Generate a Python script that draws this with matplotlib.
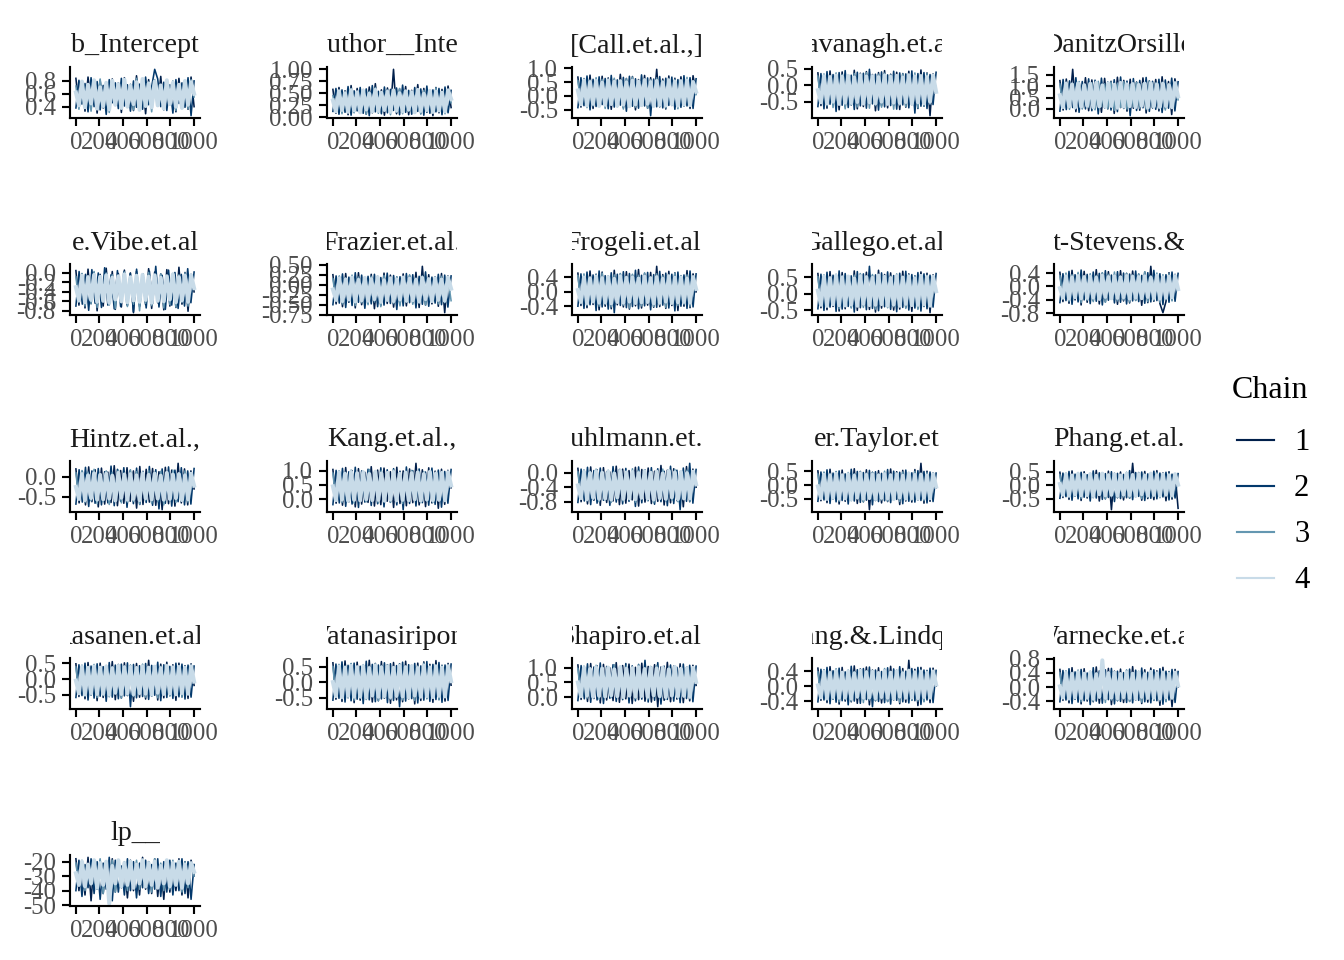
import numpy as np
import matplotlib
matplotlib.use("Agg")
import matplotlib.pyplot as plt
from matplotlib.lines import Line2D
from matplotlib.transforms import Bbox, TransformedBbox

plt.rcParams['font.family'] = ['Liberation Serif', 'DejaVu Serif']

chain_colors = ["#011f4b", "#03396c", "#6497b1", "#c8dbe8"]
chain_labels = ["1", "2", "3", "4"]
x_ticks = [0, 200, 400, 600, 800, 1000]
x_ticklabels = ["0", "200", "400", "600", "800", "1000"]

# trace values, in hundredths (lp__ in raw units), 4 chains each
b_intercept = [
    [84, 40, 78, 33, 86, 45, 74, 30, 81, 38, 70, 36, 83, 42, 77, 31, 85, 39, 72, 34, 88, 44, 79, 29, 82, 37, 76, 41, 87, 35, 80, 43, 75, 32, 84, 38, 71, 36, 86, 40],
    [38, 81, 44, 76, 32, 85, 40, 79, 35, 73, 28, 82, 46, 77, 37, 84, 41, 74, 33, 80, 39, 75, 36, 86, 43, 71, 98, 83, 40, 78, 34, 74, 30, 82, 45, 77, 39, 85, 26, 80],
    [72, 36, 80, 42, 69, 33, 77, 45, 83, 39, 74, 31, 79, 43, 68, 37, 81, 40, 75, 35, 84, 38, 71, 44, 78, 32, 82, 41, 70, 36, 76, 46, 80, 34, 73, 42, 79, 37, 82, 55],
    [62, 42, 79, 39, 74, 45, 81, 37, 70, 41, 77, 36, 80, 43, 75, 38, 82, 40, 72, 44, 78, 35, 83, 41, 76, 39, 79, 42, 73, 37, 81, 44, 77, 40, 74, 38, 80, 43, 78, 60],
]
sd_author = [
    [58, 8, 62, 12, 55, 5, 66, 10, 60, 14, 52, 6, 63, 9, 70, 11, 57, 4, 61, 13, 100, 7, 59, 12, 64, 5, 56, 15, 68, 8, 60, 10, 54, 3, 62, 9, 58, 11, 65, 20],
    [12, 60, 6, 57, 10, 64, 4, 55, 13, 62, 8, 59, 3, 66, 11, 54, 7, 63, 9, 58, 14, 61, 5, 67, 10, 56, 6, 62, 12, 59, 4, 65, 8, 57, 11, 60, 5, 63, 9, 56],
    [45, 10, 56, 7, 52, 14, 60, 9, 50, 12, 58, 6, 54, 11, 62, 8, 49, 13, 57, 5, 53, 10, 60, 7, 55, 12, 51, 9, 59, 6, 56, 11, 48, 8, 61, 13, 54, 7, 58, 30],
    [35, 12, 54, 15, 50, 11, 56, 14, 52, 10, 55, 16, 49, 12, 57, 13, 51, 15, 53, 11, 56, 14, 50, 12, 54, 16, 52, 10, 57, 13, 49, 15, 55, 11, 53, 14, 51, 12, 56, 38],
]
call = [
    [68, -40, 62, -33, 75, -45, 58, -30, 71, -38, 65, -48, 60, -35, 78, -42, 63, -31, 70, -50, 59, -36, 74, -44, 66, -32, 96, -39, 61, -47, 72, -34, 64, -41, 69, -37, 57, -45, 73, 10],
    [-42, 66, -35, 72, -50, 60, -38, 69, -31, 63, -46, 74, -40, 58, -33, 67, -55, 71, -37, 62, -44, 76, -36, 65, -71, 61, -39, 70, -43, 64, -34, 68, -48, 59, -41, 73, -36, 66, -45, 62],
    [55, -30, 63, -42, 58, -36, 66, -28, 60, -45, 52, -33, 64, -39, 57, -47, 62, -31, 68, -40, 54, -35, 61, -44, 59, -29, 65, -38, 56, -43, 63, -34, 60, -46, 58, -37, 67, -32, 55, 5],
    [20, -30, 55, -34, 50, -28, 54, -36, 48, -32, 56, -29, 51, -35, 53, -31, 49, -37, 55, -30, 52, -33, 57, -28, 50, -36, 54, -32, 48, -34, 56, -29, 51, -35, 53, -31, 55, -33, 50, 15],
]
kavanagh = [
    [38, -62, 32, -70, 44, -58, 35, -75, 41, -66, 30, -60, 46, -72, 37, -65, 42, -57, 33, -78, 39, -63, 45, -69, 34, -61, 40, -74, 36, -67, 43, -59, 31, -71, 47, -64, 38, -93, 35, -20],
    [-65, 36, -72, 42, -58, 33, -80, 39, -61, 45, -68, 31, -74, 40, -63, 37, -70, 49, -57, 34, -76, 41, -66, 32, -62, 43, -73, 38, -60, 35, -69, 44, -85, 36, -64, 39, -71, 33, -59, 40],
    [28, -55, 35, -63, 30, -68, 38, -58, 33, -72, 27, -60, 36, -66, 31, -56, 39, -70, 29, -62, 34, -67, 37, -57, 32, -73, 28, -61, 35, -65, 30, -59, 38, -69, 33, -64, 36, -58, 29, -10],
    [-15, -52, 28, -55, 25, -50, 30, -57, 26, -53, 29, -54, 24, -51, 31, -56, 27, -52, 28, -55, 25, -50, 30, -57, 26, -53, 29, -54, 24, -51, 31, -56, 27, -52, 28, -55, 25, -50, 30, -20],
]
danitz = [
    [125, -5, 132, 8, 175, -12, 120, 2, 138, -8, 128, 5, 118, -15, 135, 0, 122, -20, 140, 6, 126, -10, 131, 3, 119, -6, 137, -18, 124, 4, 130, -9, 142, 1, 121, -25, 133, 60],
    [-10, 130, -3, 124, 6, 138, -15, 121, 0, 133, -8, 127, -22, 136, 4, 119, -5, 129, -12, 141, 2, 123, -30, 134, -7, 126, 5, 139, -11, 122, -2, 131, -16, 128, 3, 136, -9, 120],
    [110, 5, 118, -2, 113, 8, 121, 0, 108, 6, 116, -4, 122, 10, 111, 2, 119, -6, 114, 7, 120, -1, 109, 9, 117, 3, 112, -3, 123, 5, 115, 1, 118, -5, 110, 8, 121, 40],
    [60, 8, 112, 12, 108, 6, 114, 10, 105, 14, 111, 7, 116, 11, 104, 9, 113, 13, 107, 5, 115, 10, 109, 12, 110, 8, 106, 14, 112, 6, 114, 11, 108, 9, 111, 13, 105, 7, 113, 55],
]
vibe = [
    [5, -68, -2, -74, 8, -65, 1, -80, -3, -70, 10, -66, 3, -77, -1, -72, 6, -69, 0, -84, 4, -71, -4, -67, 9, -75, 2, -63, -2, -78, 7, -70, -5, -73, 12, -66, 1, -81, -3, -40],
    [-70, 3, -66, -3, -79, 7, -64, 0, -73, 11, -68, -4, -76, 5, -71, 2, -67, -1, -82, 8, -69, -2, -74, 4, -65, 14, -72, -5, -77, 6, -68, 1, -75, -3, -70, 9, -63, 2],
    [-8, -62, -1, -70, -6, -65, 3, -73, -10, -60, 0, -68, -4, -75, -7, -63, 2, -71, -9, -66, -3, -80, -5, -64, 1, -69, -8, -61, -2, -74, -6, -67, -1, -72, -4, -62, 0, -70, -7, -35],
    [-30, -58, -6, -62, -9, -57, -4, -61, -8, -59, -5, -63, -10, -56, -7, -60, -3, -62, -9, -58, -6, -61, -4, -57, -8, -63, -5, -59, -10, -60, -7, -56, -3, -62, -9, -58, -6, -61, -5, -32],
]
frazier = [
    [25, -48, 20, -55, 28, -44, 22, -58, 30, -50, 18, -46, 26, -60, 21, -52, 29, -47, 24, -56, 19, -49, 27, -53, 23, -45, 31, -57, 46, -51, 25, -48, 20, -54, 28, -70, 22, -10],
    [-50, 22, -46, 27, -57, 19, -52, 30, -44, 24, -59, 21, -48, 26, -55, 18, -51, 29, -47, 23, -62, 20, -53, 28, -45, 25, -58, 21, -49, 32, -54, 19, -46, 26, -50, 24, -56, 22],
    [15, -42, 22, -48, 17, -40, 24, -52, 19, -45, 13, -50, 21, -43, 16, -55, 23, -41, 18, -47, 20, -53, 14, -44, 25, -49, 17, -46, 22, -51, 15, -42, 19, -48, 21, -45, 16, -40],
    [-12, -38, 16, -41, 13, -37, 18, -42, 12, -39, 17, -40, 14, -36, 19, -43, 11, -38, 16, -41, 13, -37, 18, -40, 15, -39, 12, -42, 17, -36, 14, -41, 16, -38, 13, -40, 18, -10],
]
frogeli = [
    [52, -38, 46, -44, 58, -35, 49, -50, 55, -40, 44, -47, 60, -36, 50, -42, 56, -48, 47, -39, 62, -45, 51, -37, 54, -43, 71, -41, 48, -46, 57, -38, 53, -52, 45, -40, 59, -44, 50, 0],
    [-40, 50, -46, 55, -36, 47, -52, 58, -42, 45, -48, 53, -58, 49, -38, 56, -44, 51, -41, 60, -47, 46, -39, 54, -50, 48, -43, 57, -37, 52, -45, 49, -53, 55, -40, 47, -46, 58, -42, 50],
    [45, -33, 50, -38, 42, -30, 48, -40, 52, -35, 44, -42, 47, -31, 51, -37, 43, -45, 49, -34, 46, -39, 53, -32, 41, -41, 50, -36, 44, -43, 48, -33, 52, -38, 45, -35, 47, -40, 43, 5],
    [5, -28, 40, -31, 37, -27, 42, -30, 38, -29, 41, -32, 36, -28, 43, -30, 39, -27, 40, -31, 37, -29, 42, -28, 38, -32, 41, -30, 36, -27, 43, -31, 39, -29, 40, -28, 37, -30, 41, 8],
]
gallego = [
    [62, -42, 55, -48, 68, -38, 58, -52, 65, -45, 53, -40, 70, -50, 60, -36, 66, -47, 56, -55, 72, -43, 59, -39, 64, -49, 57, -46, 69, -41, 61, -53, 55, -44, 67, -38, 63, -57, 58, 10],
    [-45, 60, -50, 66, -40, 57, -53, 70, -46, 62, -38, 55, -55, 68, -42, 61, -48, 84, -44, 58, -51, 64, -39, 67, -47, 56, -54, 63, -41, 69, -49, 59, -43, 65, -52, 61, -45, 57, -40, 62],
    [52, -35, 58, -40, 50, -32, 60, -45, 55, -38, 49, -43, 57, -34, 62, -41, 53, -37, 59, -46, 51, -33, 56, -42, 54, -39, 61, -36, 50, -44, 58, -31, 55, -47, 52, -38, 57, -40, 53, 12],
    [10, -33, 52, -36, 48, -31, 55, -34, 50, -35, 53, -32, 47, -36, 54, -30, 51, -34, 49, -33, 56, -31, 52, -35, 48, -32, 54, -36, 50, -30, 53, -34, 47, -33, 55, -31, 51, -35, 52, 8],
]
stevens = [
    [42, -45, 36, -50, 48, -40, 38, -55, 45, -47, 33, -42, 50, -52, 40, -46, 44, -38, 35, -53, 47, -43, 39, -49, 46, -41, 37, -56, 43, -48, 60, -44, 34, -51, -78, -45, 41, -40, 36, -10],
    [-48, 38, -42, 45, -53, 35, -46, 49, -40, 36, -51, 43, -44, 39, -55, 47, -41, 34, -49, 44, -47, 40, -52, 37, -43, 46, -45, 33, -50, 41, -46, 48, -42, 38, -54, 35, -47, 43, -44, 39],
    [32, -38, 40, -44, 35, -36, 42, -48, 30, -41, 38, -45, 33, -39, 41, -47, 36, -37, 43, -43, 31, -40, 39, -46, 34, -42, 37, -38, 44, -45, 32, -41, 40, -47, 35, -39, 38, -43, 33, -5],
    [-5, -33, 30, -36, 27, -32, 31, -35, 28, -34, 29, -33, 26, -37, 32, -31, 28, -35, 30, -34, 27, -32, 31, -36, 29, -33, 28, -35, 30, -31, 26, -34, 32, -36, 27, -33, 29, -32, 31, -8],
]
hintz = [
    [20, -65, 14, -70, 25, -62, 18, -75, 22, -68, 12, -64, 28, -72, 16, -66, 23, -61, 15, -78, 26, -69, 19, -63, 21, -71, 13, -82, 24, -67, 17, -73, 34, -65, 20, -70, 15, -30],
    [-68, 18, -63, 24, -74, 15, -66, 21, -70, 13, -65, 27, -72, 19, -61, 23, -76, 16, -67, 22, -69, 14, -64, 26, -71, 18, -80, 20, -66, 25, -73, 17, -62, 23, -70, 15, -68, 21],
    [10, -58, 16, -64, 12, -60, 19, -67, 8, -62, 15, -69, 11, -57, 17, -65, 9, -63, 18, -61, 13, -68, 7, -59, 16, -66, 12, -62, 14, -70, 10, -60, 17, -64, 11, -58, 15, -63, 9, -20],
    [-25, -55, 7, -58, 4, -53, 9, -57, 5, -56, 8, -54, 3, -59, 10, -52, 6, -57, 7, -55, 4, -58, 9, -53, 5, -56, 8, -54, 3, -57, 10, -55, 6, -53, 7, -58, 4, -56, 8, -22],
]
kang = [
    [105, -15, 98, -22, 112, -10, 101, -28, 108, -18, 95, -12, 115, -25, 103, -20, 110, -8, 97, -30, 113, -16, 100, -24, 107, -13, 127, -21, 104, -27, 111, -14, 99, -33, 106, -19, 102, 40],
    [-20, 102, -14, 109, -26, 97, -18, 113, -30, 100, -11, 106, -23, 95, -17, 111, -28, 104, -12, 108, -21, 99, -38, 114, -16, 101, -25, 107, -13, 96, -22, 110, -19, 103, -29, 98, -15, 105],
    [92, -5, 100, -12, 95, -8, 103, -15, 90, -3, 98, -10, 105, -7, 93, -14, 101, -2, 96, -11, 104, -6, 91, -16, 99, -9, 102, -4, 94, -13, 97, -8, 100, -12, 93, -5, 98, -10, 95, 45],
    [45, -4, 94, -2, 90, -6, 96, -3, 92, -5, 95, -1, 89, -4, 97, -3, 91, -6, 93, -2, 96, -5, 90, -3, 94, -4, 92, -1, 95, -6, 89, -2, 97, -5, 91, -3, 93, -4, 95, 48],
]
kuhlmann = [
    [12, -80, 5, -86, 16, -76, 8, -90, 14, -82, 2, -78, 18, -88, 10, -84, 6, -75, 15, -92, 9, -81, 13, -85, 4, -79, 20, -89, 7, -83, 11, -77, 3, -94, 17, -80, 10, -40],
    [-82, 10, -78, 15, -88, 6, -84, 13, -76, 3, -90, 17, -81, 9, -86, 12, -79, 5, -93, 16, -83, 8, -77, 14, -87, 11, -80, 4, -91, 18, -85, 7, -102, 13, -79, 26, -84, 9],
    [2, -72, 8, -78, 4, -74, 10, -80, 0, -76, 7, -82, 3, -73, 9, -79, 1, -75, 11, -81, 5, -71, 8, -77, 3, -83, 6, -74, 10, -78, 2, -76, 9, -80, 4, -73, 7, -79, 5, -35],
    [-35, -70, 2, -73, -1, -69, 4, -72, 0, -71, 3, -74, -2, -68, 5, -72, 1, -70, 2, -73, -1, -69, 4, -71, 0, -74, 3, -70, -2, -72, 5, -68, 1, -73, 2, -71, -1, -70, 3, -32],
]
taylor = [
    [52, -58, 45, -65, 58, -52, 48, -70, 55, -60, 42, -55, 60, -68, 50, -62, 56, -91, 47, -57, 53, -66, 44, -61, 59, -54, 49, -72, 54, -59, 46, -63, 57, -56, 80, -67, 51, -60, 45, -10],
    [-60, 48, -55, 56, -68, 44, -62, 52, -57, 41, -70, 58, -59, 50, -64, 46, -56, 54, -73, 49, -61, 43, -58, 57, -65, 51, -53, 47, -69, 55, -60, 45, -63, 53, -57, 50, -66, 48, -61, 44],
    [40, -50, 48, -56, 43, -52, 50, -60, 38, -54, 46, -58, 42, -51, 49, -62, 44, -53, 47, -57, 41, -55, 51, -59, 39, -52, 45, -61, 48, -54, 42, -56, 50, -53, 44, -58, 46, -51, 43, -8],
    [-5, -48, 38, -51, 35, -47, 41, -50, 36, -49, 39, -52, 34, -46, 42, -50, 37, -48, 38, -51, 35, -47, 40, -49, 36, -52, 39, -46, 34, -50, 42, -48, 37, -51, 38, -47, 35, -49, 40, -6],
]
phang = [
    [48, -45, 42, -52, 53, -40, 45, -56, 50, -47, 40, -43, 55, -58, 46, -50, 52, -90, 44, -46, 49, -54, 41, -48, 81, -42, 47, -55, 51, -49, 43, -53, 54, -44, 46, -57, 50, -51, 42, -85],
    [-48, 45, -42, 51, -55, 41, -50, 48, -44, 39, -58, 53, -47, 46, -52, 43, -45, 50, -60, 44, -49, 40, -46, 54, -53, 47, -41, 49, -56, 42, -48, 52, -50, 45, -43, 48, -54, 41, -47, 43],
    [38, -38, 45, -44, 40, -40, 47, -48, 36, -42, 44, -46, 39, -37, 46, -50, 41, -41, 43, -45, 37, -43, 48, -47, 35, -39, 45, -49, 42, -44, 40, -42, 47, -46, 38, -40, 44, -45, 39, 0],
    [5, -35, 40, -38, 36, -34, 42, -37, 38, -36, 41, -39, 35, -33, 43, -37, 37, -35, 40, -38, 36, -34, 42, -36, 38, -39, 41, -33, 35, -37, 43, -35, 37, -38, 40, -34, 36, -36, 41, 2],
]
rasanen = [
    [48, -55, 42, -62, 52, -50, 45, -68, 50, -58, 40, -53, 55, -65, 46, -60, 51, -52, 43, -70, 49, -57, 44, -63, 59, -54, 41, -66, 47, -59, 53, -51, 45, -67, 50, -56, 42, -61, 48, -20],
    [-58, 45, -52, 50, -66, 41, -60, 48, -54, 39, -70, 52, -57, 44, -62, 47, -53, 51, -87, 46, -59, 42, -55, 49, -64, 43, -51, 53, -68, 45, -58, 40, -61, 50, -56, 47, -63, 44, -57, 41],
    [38, -48, 44, -54, 40, -50, 46, -58, 36, -52, 43, -56, 39, -47, 45, -60, 41, -51, 44, -55, 37, -49, 47, -57, 38, -53, 42, -59, 40, -48, 46, -54, 39, -52, 43, -57, 41, -50, 44, -5],
    [-5, -45, 38, -48, 35, -44, 40, -47, 36, -46, 39, -49, 34, -43, 41, -47, 37, -45, 38, -48, 35, -44, 40, -46, 36, -49, 39, -43, 34, -47, 41, -45, 37, -48, 38, -44, 35, -46, 40, -8],
]
watanasiripong = [
    [62, -55, 55, -62, 68, -50, 58, -66, 64, -58, 52, -53, 70, -64, 60, -60, 66, -52, 56, -68, 63, -57, 59, -63, 67, -54, 53, -70, 61, -59, 65, -51, 57, -65, 69, -56, 54, -61, 60, -10],
    [-58, 58, -52, 65, -64, 54, -60, 61, -55, 51, -69, 67, -57, 57, -63, 55, -54, 62, -66, 59, -59, 53, -79, 64, -61, 56, -53, 60, -67, 52, -58, 66, -62, 57, -56, 63, -65, 55, -59, 58],
    [50, -48, 57, -54, 52, -50, 60, -58, 48, -52, 56, -56, 51, -47, 59, -60, 53, -51, 55, -55, 49, -49, 58, -57, 50, -53, 54, -59, 52, -48, 61, -54, 51, -52, 56, -57, 53, -50, 55, 0],
    [0, -45, 50, -48, 46, -44, 52, -47, 48, -46, 51, -49, 45, -43, 53, -47, 47, -45, 50, -48, 46, -44, 52, -46, 48, -49, 51, -43, 45, -47, 53, -45, 47, -48, 50, -44, 46, -46, 51, 3],
]
shapiro = [
    [110, -8, 104, -15, 115, -5, 107, -20, 112, -10, 100, -12, 118, -18, 108, -6, 113, -22, 102, -9, 116, -14, 105, -17, 111, -33, 103, -11, 119, -16, 106, -7, 114, -19, 101, -13, 109, 40],
    [-12, 108, -6, 114, -18, 103, -10, 117, -22, 105, -4, 111, -15, 100, -9, 115, -20, 107, -13, 112, -7, 126, -17, 104, -11, 118, -24, 106, -8, 110, -14, 102, -19, 113, -5, 109, -16, 106],
    [98, 2, 106, -4, 101, 0, 109, -8, 96, 4, 104, -2, 111, 1, 99, -6, 107, 3, 102, -5, 110, 0, 97, -9, 105, 2, 108, -3, 100, -7, 103, 1, 106, -4, 99, 3, 104, -6, 101, 48],
    [50, 3, 100, 5, 96, 1, 102, 4, 98, 2, 101, 6, 95, 3, 103, 0, 97, 5, 99, 2, 102, 4, 96, 1, 100, 6, 98, 3, 101, 0, 95, 5, 103, 2, 97, 4, 99, 1, 100, 52],
]
lindquist = [
    [48, -38, 42, -44, 52, -35, 45, -48, 50, -40, 40, -42, 54, -46, 46, -36, 51, -50, 43, -39, 49, -45, 44, -41, 53, -37, 41, -47, 47, -43, 69, -38, 45, -52, 50, -40, 42, -44, 48, 0],
    [-42, 45, -37, 50, -47, 41, -43, 48, -39, 38, -50, 53, -40, 44, -46, 47, -36, 51, -55, 43, -41, 39, -44, 49, -48, 46, -38, 52, -42, 40, -45, 47, -39, 50, -49, 43, -37, 48, -44, 42],
    [38, -33, 44, -38, 40, -35, 46, -42, 36, -36, 43, -40, 39, -32, 45, -44, 41, -37, 42, -39, 37, -34, 47, -41, 38, -36, 43, -43, 40, -33, 45, -38, 39, -40, 44, -42, 41, -35, 42, 3],
    [2, -30, 38, -32, 35, -29, 40, -31, 36, -30, 39, -33, 34, -28, 41, -31, 37, -30, 38, -32, 35, -29, 40, -31, 36, -33, 39, -28, 34, -31, 41, -30, 37, -32, 38, -29, 35, -30, 39, 4],
]
warnecke = [
    [50, -38, 44, -45, 55, -35, 47, -48, 52, -40, 42, -42, 57, -46, 48, -36, 53, -50, 45, -39, 51, -44, 46, -41, 58, -37, 43, -47, 49, -43, 54, -38, 46, -52, 56, -40, 44, -56, 50, 0],
    [-42, 47, -37, 52, -47, 43, -43, 50, -39, 40, -50, 55, -40, 46, -46, 49, -36, 53, -48, 45, -41, 41, -44, 51, -45, 48, -38, 54, -42, 42, -45, 49, -39, 52, -49, 45, -37, 50, -44, 44],
    [40, -33, 46, -38, 42, -35, 48, -42, 38, -36, 45, -40, 41, -32, 47, -44, 43, -37, 44, -39, 39, -34, 49, -41, 40, -36, 45, -43, 42, -33, 47, -38, 41, -40, 46, -42, 43, -35, 44, 3],
    [2, -30, 40, -32, 37, -29, 42, -31, 38, -30, 41, -33, 36, -28, 76, -31, 39, -30, 40, -32, 37, -29, 42, -31, 38, -33, 41, -28, 36, -31, 43, -30, 39, -32, 40, -29, 37, -30, 41, 4],
]
lp = [
    [-18, -40, -21, -43, -17, -47, -20, -39, -19, -42, -22, -44, -18, -41, -20, -38, -23, -45, -19, -40, -21, -43, -17, -39, -20, -42, -18, -44, -22, -46, -19, -41, -21, -40, -18, -43, -20, -45, -19, -30],
    [-40, -19, -44, -22, -38, -18, -42, -20, -46, -21, -39, -17, -47, -19, -41, -23, -43, -18, -40, -20, -45, -21, -38, -19, -42, -22, -39, -18, -44, -20, -41, -19, -43, -21, -40, -18, -42, -20, -46, -22],
    [-21, -37, -19, -40, -23, -36, -20, -39, -18, -42, -22, -38, -19, -41, -21, -37, -20, -40, -24, -36, -19, -39, -22, -38, -20, -41, -18, -37, -21, -40, -23, -39, -19, -36, -22, -41, -20, -38, -21, -30],
    [-28, -36, -20, -37, -22, -35, -19, -38, -21, -36, -20, -49, -23, -35, -19, -37, -21, -36, -20, -38, -22, -35, -19, -37, -21, -36, -20, -38, -23, -35, -19, -37, -21, -36, -20, -38, -22, -35, -21, -27],
]

titles = ["b_Intercept", "sd_Author__Intercept", "[Call.et.al.,]", "Kavanagh.et.al.,", "DanitzOrsillo",
          "e.Vibe.et.al", "Frazier.et.al.", "Frogeli.et.al.", "Gallego.et.al.", "t-Stevens.&",
          "Hintz.et.al.,", "Kang.et.al.,", "Kuhlmann.et.al", "er.Taylor.et", "Phang.et.al.",
          "Rasanen.et.al.,", "Watanasiripong", "Shapiro.et.al.,", "Huang.&.Lindquist", "Warnecke.et.al.",
          "lp__"]
traces = [b_intercept, sd_author, call, kavanagh, danitz,
          vibe, frazier, frogeli, gallego, stevens,
          hintz, kang, kuhlmann, taylor, phang,
          rasanen, watanasiripong, shapiro, lindquist, warnecke,
          lp]
units = [100] * 20 + [1]
y_ticks = [
    [0.4, 0.6, 0.8], [0, 0.25, 0.5, 0.75, 1.0], [-0.5, 0, 0.5, 1.0], [-0.5, 0, 0.5], [0, 0.5, 1.0, 1.5],
    [-0.8, -0.6, -0.4, -0.2, 0], [-0.75, -0.5, -0.25, 0, 0.25, 0.5], [-0.4, 0, 0.4], [-0.5, 0, 0.5], [-0.8, -0.4, 0, 0.4],
    [-0.5, 0], [0, 0.5, 1.0], [-0.8, -0.4, 0], [-0.5, 0, 0.5], [-0.5, 0, 0.5],
    [-0.5, 0, 0.5], [-0.5, 0, 0.5], [0, 0.5, 1.0], [-0.4, 0, 0.4], [-0.4, 0, 0.4, 0.8],
    [-50, -40, -30, -20],
]
y_ticklabels = [
    ["0.4", "0.6", "0.8"], ["0.00", "0.25", "0.50", "0.75", "1.00"], ["-0.5", "0.0", "0.5", "1.0"], ["-0.5", "0.0", "0.5"], ["0.0", "0.5", "1.0", "1.5"],
    ["-0.8", "-0.6", "-0.4", "-0.2", "0.0"], ["-0.75", "-0.50", "-0.25", "0.00", "0.25", "0.50"], ["-0.4", "0.0", "0.4"], ["-0.5", "0.0", "0.5"], ["-0.8", "-0.4", "0.0", "0.4"],
    ["-0.5", "0.0"], ["0.0", "0.5", "1.0"], ["-0.8", "-0.4", "0.0"], ["-0.5", "0.0", "0.5"], ["-0.5", "0.0", "0.5"],
    ["-0.5", "0.0", "0.5"], ["-0.5", "0.0", "0.5"], ["0.0", "0.5", "1.0"], ["-0.4", "0.0", "0.4"], ["-0.4", "0.0", "0.4", "0.8"],
    ["-50", "-40", "-30", "-20"],
]

W, H = 1344, 960
fig = plt.figure(figsize=(7, 5), dpi=192)
col_left = [70, 327, 572, 812, 1054]
row_top = [67, 264, 461, 658, 855]
pw, ph = 130, 51
chain_lw = [0.6, 0.6, 0.6, 1.5]

for i, title in enumerate(titles):
    r, c = divmod(i, 5)
    ax = fig.add_axes([col_left[c] / W, 1 - (row_top[r] + ph) / H, pw / W, ph / H])
    allv = []
    for k in range(4):
        y = np.array(traces[i][k], dtype=float) / units[i]
        x = np.linspace(1, 1000, len(y))
        ax.plot(x, y, color=chain_colors[k], lw=chain_lw[k])
        allv.extend(y)
    lo, hi = min(allv), max(allv)
    pad = 0.05 * (hi - lo)
    ax.set_xticks(x_ticks)
    ax.set_xticklabels(x_ticklabels)
    ax.set_yticks(y_ticks[i])
    ax.set_yticklabels(y_ticklabels[i])
    ax.set_xlim(1 - 49.95, 1000 + 49.95)
    ax.set_ylim(lo - pad, hi + pad)
    for s in ['top', 'right']:
        ax.spines[s].set_visible(False)
    for s in ['left', 'bottom']:
        ax.spines[s].set_linewidth(0.8)
    ax.tick_params(direction='out', length=3, width=0.8, labelsize=9.3,
                   labelcolor='#4d4d4d', pad=2.3)
    ax.patch.set_alpha(0)

    # facet title, clipped to the panel width like a ggplot strip
    x0 = col_left[c] / W
    x1 = (col_left[c] + pw) / W
    yc = 1 - (row_top[r] - 21) / H
    t = fig.text((x0 + x1) / 2, yc, title, ha='center', va='center',
                 fontsize=10.5, color='#1a1a1a')
    t.set_clip_box(TransformedBbox(Bbox.from_extents(x0, yc - 0.05, x1, yc + 0.05), fig.transFigure))
    t.set_clip_on(True)

# legend
fig.text(1270 / W, 1 - 390 / H, "Chain", ha='center', va='center', fontsize=12, color='black')
for k, lab in enumerate(chain_labels):
    yy = 1 - (440 + 46 * k) / H
    fig.add_artist(Line2D([1237 / W, 1274 / W], [yy, yy], transform=fig.transFigure,
                          color=chain_colors[k], lw=0.8))
    fig.text(1294 / W, 1 - (443 + 46 * k) / H, lab, ha='left', va='center', fontsize=11.5, color='black')

fig.savefig("out.png", dpi=192)
